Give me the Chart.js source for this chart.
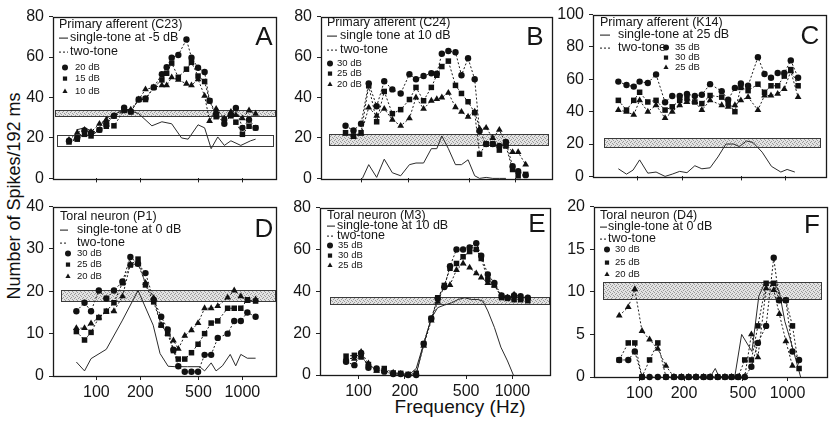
<!DOCTYPE html>
<html>
<head>
<meta charset="utf-8">
<title>Spike counts vs frequency</title>
<script src="https://cdn.jsdelivr.net/npm/chart.js@4.4.1/dist/chart.umd.min.js"></script>
<style>
  html, body { margin: 0; padding: 0; background: #fff; }
  body { position: relative; width: 831px; height: 430px; overflow: hidden;
         font-family: "Liberation Sans", Arial, sans-serif; color: #111; }
  canvas { position: absolute; }
  .axis-title { position: absolute; white-space: nowrap; transform: translate(-50%, -50%); }
  #ytitle { left: 14px; top: 196px; font-size: 18px; transform: translate(-50%, -50%) rotate(-90deg); }
  #xtitle { left: 460px; top: 407px; font-size: 19px; }
</style>
</head>
<body>
<div class="axis-title" id="ytitle">Number of Spikes/192 ms</div>
<div class="axis-title" id="xtitle">Frequency (Hz)</div>
<script>
// frequency tick labels (Hz), shared by all panels
const freqTicks = [100, 200, 500, 1000];

// ---- A: primary afferent (C23)
const freqA = [65, 74, 83, 92, 105, 117, 132, 155, 172, 195, 217, 247, 281, 303, 328, 364, 414, 448, 497, 551, 596, 661, 752, 834, 902, 1000, 1110, 1231];
const circlesA = [18.6, 20, 23.7, 22.6, 24, 27, 31, 35, 33, 39, 39.5, 45, 51.5, 55, 59.7, 61, 68.7, 59.7, 54.7, 52.6, 38.4, 32, 27, 31.3, 34.8, 25, 29, 25];
const squaresA = [18, 19.4, 21.8, 21, 24, 25.8, 26, 33.6, 33, 39, 39, 45, 48.7, 52, 57, 50, 54, 57.4, 50.6, 47.9, 38.4, 30.5, 29, 31, 27.8, 21.8, 25.8, 25];
const trianglesA = [19, 22.6, 24, 23, 27, 29, 30.5, 33.6, 34, 39, 44, 45, 46, 46, 50, 48.7, 46.8, 46, 49, 40.8, 28.4, 34.4, 29.7, 32.9, 31.3, 29.7, 33.6, 32];
const toneFreqA = [73, 83, 99, 116, 136, 159, 195, 240, 281, 328, 383, 425, 497, 551, 611, 678, 752, 834, 975, 1138, 1231];
const toneA = [24, 25, 22.6, 29.7, 32, 34.4, 32, 26, 28, 27, 20, 19.4, 26.5, 25, 14.7, 20.5, 16.3, 18.6, 16.3, 18.6, 19.4];
const bandA = [31, 34], bandFreqA = [52, 1680];
const boxA = [16, 21.5], boxFreqA = [54, 1630];
const levelsA = ['20 dB', '15 dB', '10 dB'];

// ---- B: primary afferent (C24)
const freqB = [78.5, 88.4, 99, 111, 125, 140, 158, 179, 204, 225, 252, 283, 307, 331, 365, 406, 444, 490, 541, 582, 642, 709, 782, 863, 953, 1036, 1159];
const circlesB = [26, 23.7, 27, 47, 35.7, 48, 44, 42, 51.5, 49, 50.6, 52, 51.8, 61.6, 63, 62.4, 51, 59.4, 49, 23.4, 17, 17, 16, 18, 6, 3.6, 1.6];
const squaresB = [22.6, 21, 22.6, 45.8, 28, 43, 32, 34, 39, 45, 38.4, 45, 51, 55.3, 58, 46, 42, 37.9, 32.5, 12, 17, 17, 14, 16, 4.4, 1.3, 2];
const trianglesB = [22, 20.5, 22, 35, 31, 34.4, 29, 26, 29.7, 40, 34.4, 38.4, 39.2, 40, 42.3, 35.2, 32.9, 30.5, 33, 24.6, 25, 20, 24, 17, 13, 13, 6.8];
const toneFreqB = [101, 111, 125, 140, 158, 179, 204, 225, 252, 283, 307, 331, 365, 406, 444, 490, 541, 582, 642, 709, 782, 863];
const toneB = [0, 6.8, 0.5, 9.5, 2.8, 1.3, 6.8, 7.6, 7.6, 14.7, 14.7, 21, 14.7, 6.8, 6.8, 9.2, 1.3, 0, 0.5, 0, 0, 0];
const bandB = [16.7, 22.1], bandFreqB = [61, 1611];
const levelsB = ['30 dB', '25 dB', '20 dB'];

// ---- C: primary afferent (K14)
const freqC = [74, 84, 94, 103, 117, 133, 153, 171, 192, 215, 243, 271, 308, 369, 408, 453, 497, 556, 648, 718, 794, 881, 976, 1080, 1210];
const circlesC = [58.6, 56.5, 55.5, 58.6, 57.7, 63, 45.8, 49.7, 49.7, 50.9, 49.7, 50.5, 57, 52.7, 47.4, 54.7, 57.4, 56, 73.7, 63.3, 61, 63.9, 63.9, 71.7, 61];
const squaresC = [47, 41, 47, 52, 46, 47, 41, 43, 47, 48, 46, 45, 50, 49, 45, 40, 55, 53, 57, 52, 56, 56, 62, 66, 56];
const trianglesC = [41, 40, 38, 47, 40, 44, 36, 40, 44, 46, 46, 41, 47, 44, 43, 44, 47, 49, 41, 50, 50, 51, 54, 65, 49];
const toneFreqC = [74, 84, 93, 103, 117, 133, 153, 171, 192, 215, 243, 271, 308, 348, 394, 445, 486, 542, 600, 692, 800, 925, 1020, 1150];
const toneC = [4.7, 1.4, 3.9, 10.2, 2, 2.7, 0, 1.4, 3.1, 2.3, 6.6, 4.7, 5.3, 12, 20, 20, 18.4, 21.9, 21, 15, 6.2, 2.7, 4.3, 2.7];
const bandC = [18, 23.8], bandFreqC = [59, 1700];
const levelsC = ['35 dB', '30 dB', '25 dB'];

// ---- D: toral neuron (P1)
const freqD = [73, 83, 92, 104, 117, 132, 151, 171, 193, 217, 247, 278, 308, 337, 364, 403, 448, 497, 551, 611, 678, 792, 879, 975, 1081, 1231];
const circlesD = [15.3, 17.3, 15.3, 20.2, 18.3, 20.2, 22.3, 28.1, 26.5, 24.3, 18, 14, 11, 6.2, 2.3, 1, 1, 1, 5, 5, 9, 10, 13, 13, 15, 14];
const squaresD = [10.5, 8.5, 10.3, 13.8, 15.3, 17.3, 22, 26.2, 27.6, 21.5, 17.5, 12, 10, 6, 4, 4, 5.5, 7.5, 10, 12.5, 13, 16, 16, 16, 18, 17.7];
const trianglesD = [11.3, 11.3, 12.4, 13.8, 15.2, 15.3, 18.8, 26.4, 26.4, 22, 18.4, 12, 10, 8.4, 6.4, 9.5, 10.8, 12.5, 16, 16, 16.5, 18.5, 20.2, 18.8, 17.7, 18.1];
const toneFreqD = [73, 83, 92, 117, 150, 193, 245, 273, 310, 345, 420, 510, 551, 611, 660, 730, 825, 900, 975, 1080, 1231];
const toneD = [3.3, 1.2, 4.1, 6.3, 13, 20.2, 12, 5.3, 2.3, 2.2, 2.2, 2.2, 1.2, 3.1, 1.2, 2.4, 5.1, 2.4, 5.1, 4.2, 4.2];
const bandD = [17.8, 20.3], bandFreqD = [57, 1679];
const levelsD = ['30 dB', '25 dB', '20 dB'];

// ---- E: toral neuron (M3)
const freqE = [83, 94, 104, 116, 131, 147, 168, 188, 210, 237, 265, 297, 327, 361, 393, 433, 478, 527, 582, 627, 692, 763, 850, 929, 1025, 1130, 1259];
const circlesE = [6.3, 4.7, 10.5, 3.5, 3.1, 1.6, 0.5, 0.5, 0, 0, 15, 27, 36.6, 42, 52, 60, 60, 61, 63, 57, 48, 44, 38, 37, 38, 37.7, 37];
const squaresE = [9, 9.4, 8.6, 5, 2.4, 3.1, 1, 0.8, 0.3, 0.8, 14.9, 27, 36.9, 42.8, 51, 53.3, 56.5, 59, 60, 55.7, 45.5, 43, 37, 36.6, 36, 36, 35.5];
const trianglesE = [8, 7.8, 11, 5.5, 2, 2, 1.1, 0.5, 0, 0.5, 14, 26, 35, 42.5, 43, 50.2, 53.3, 51.3, 48.6, 46.6, 43.9, 42.8, 37.7, 37, 38.4, 37, 36.6];
const toneFreqE = [212, 237, 265, 297, 327, 361, 403, 444, 490, 541, 597, 643, 692, 763, 841, 929, 1014];
const toneE = [0, 3.1, 14.9, 27.1, 32.2, 33.4, 34.5, 36.1, 36.9, 36.1, 36.1, 35.3, 30.6, 22.8, 13.3, 6.7, 0];
const bandE = [33.7, 37.2], bandFreqE = [65, 1718];
const levelsE = ['35 dB', '30 dB', '25 dB'];

// ---- F: toral neuron (D4)
const freqF = [73, 84, 93, 104, 117, 133, 151, 171, 192, 215, 241, 271, 300, 338, 378, 419, 464, 514, 570, 631, 717, 807, 880, 975, 1080, 1197];
const circlesF = [2, 2, 3, 0, 0, 0, 0, 0, 0, 0, 0, 0, 0, 0, 0, 0, 0, 0, 1.2, 4, 6, 14, 9, 9, 3, 2];
const squaresF = [2, 4, 4, 0, 2, 4, 0, 0, 0, 0, 0, 0, 0, 0, 0, 0, 0, 2, 2, 6, 11, 11, 9, 9, 6, 1];
const trianglesF = [7.2, 8.2, 10.3, 5.4, 4.4, 3.3, 1.3, 0, 0, 0, 0, 0, 0, 0, 0, 0, 0, 0, 5, 2.3, 10.4, 10.2, 7.4, 4.2, 1.3, null];
const toneFreqF = [230, 300, 325, 345, 440, 490, 575, 640, 700, 800, 880, 960, 1040, 1140, 1226];
const toneF = [0, 0, 1, 0, 0, 5, 3, 9.5, 11, 11.2, 10, 6.5, 4.5, 2, 0];
const bandF = [9.1, 11.1], bandFreqF = [57, 1694];
const levelsF = ['30 dB', '25 dB', '20 dB'];

const FONT = '"Liberation Sans", Arial, Helvetica, sans-serif';
const INK = '#151515';
const markerStyles = ['circle', 'rect', 'triangle'];
const markerRadius = [3.2, 3.9, 3.9];

// scattered-dot stipple used for the spontaneous-rate bands
const stippleCanvas = document.createElement('canvas');
stippleCanvas.width = 4; stippleCanvas.height = 4;
(function () {
  const g = stippleCanvas.getContext('2d');
  g.fillStyle = '#e3e3e3'; g.fillRect(0, 0, 4, 4);
  g.fillStyle = '#9a9a9a';
  g.fillRect(0, 0, 1, 1); g.fillRect(2, 1, 1, 1); g.fillRect(3, 3, 1, 1); g.fillRect(1, 2, 1, 1);
})();

function band(lohi, freqs, open) {
  return { lo: lohi[0], hi: lohi[1], from: freqs[0], to: freqs[1], open: !!open };
}

// layout: box = chart area [left, top, right, bottom] in page pixels
const panels = [
  { letter: 'A', box: [53, 14, 279, 183], xRange: [50.5, 1698], yMax: 80, yStep: 20, labels: false,
    title: 'Primary afferent (C23)', toneLabel: 'single-tone at -5 dB', levels: levelsA,
    freqs: freqA, series: [circlesA, squaresA, trianglesA], toneFreq: toneFreqA, tone: toneA,
    bands: [band(bandA, bandFreqA), band(boxA, boxFreqA, true)],
    lg: { x: 6, dashEnd: 15, text: 17, mark: 12, level: 22, rows: [8, 21, 35, 51, 62, 75], letter: [12, 21] } },
  { letter: 'B', box: [321, 14, 555, 183], xRange: [54.4, 1718], yMax: 80, yStep: 20, labels: false,
    title: 'Primary afferent (C24)', toneLabel: 'single tone at 10 dB', levels: levelsB,
    freqs: freqB, series: [circlesB, squaresB, trianglesB], toneFreq: toneFreqB, tone: toneB,
    bands: [band(bandB, bandFreqB)],
    lg: { x: 6, dashEnd: 16, text: 19, mark: 9, level: 16, rows: [6, 19, 33, 47, 57, 68], letter: [17, 21] } },
  { letter: 'C', box: [593, 10, 829, 181], xRange: [49.9, 1867], yMax: 100, yStep: 20, labels: false,
    title: 'Primary afferent (K14)', toneLabel: 'single-tone at 25 dB', levels: levelsC,
    freqs: freqC, series: [circlesC, squaresC, trianglesC], toneFreq: toneFreqC, tone: toneC,
    bands: [band(bandC, bandFreqC)],
    lg: { x: 7, dashEnd: 17, text: 25, mark: 73, level: 82, rows: [8, 20, 33, 33, 43, 53], letter: [16, 22] } },
  { letter: 'D', box: [53, 204, 279, 376], xRange: [50.5, 1698], yMax: 40, yStep: 10, labels: true,
    title: 'Toral neuron (P1)', toneLabel: 'single-tone at 0 dB', levels: levelsD,
    freqs: freqD, series: [circlesD, squaresD, trianglesD], toneFreq: toneFreqD, tone: toneD,
    bands: [band(bandD, bandFreqD)],
    lg: { x: 7, dashEnd: 15, text: 24, mark: 15, level: 24, rows: [10, 23, 36, 47, 58, 70], letter: [12, 23] } },
  { letter: 'E', box: [320, 205, 553, 375], xRange: [56.2, 1754], yMax: 80, yStep: 20, labels: true,
    title: 'Toral neuron (M3)', toneLabel: 'single-tone at 10 dB', levels: levelsE,
    freqs: freqE, series: [circlesE, squaresE, trianglesE], toneFreq: toneFreqE, tone: toneE,
    bands: [band(bandE, bandFreqE)],
    lg: { x: 7, dashEnd: 15, text: 17, mark: 10, level: 18, rows: [8, 18, 28, 38, 48, 58], letter: [13, 17] } },
  { letter: 'F', box: [594, 204, 830, 377], xRange: [49.3, 1848], yMax: 20, yStep: 5, labels: true,
    title: 'Toral neuron (D4)', toneLabel: 'single-tone at 0 dB', levels: levelsF,
    freqs: freqF, series: [circlesF, squaresF, trianglesF], toneFreq: toneFreqF, tone: toneF,
    bands: [band(bandF, bandFreqF)],
    lg: { x: 6, dashEnd: 13, text: 14, mark: 13, level: 21, rows: [9, 20, 32, 43, 56, 68], letter: [15, 19] } }
];

function points(freqs, vals) {
  return freqs.map((f, i) => ({ x: f, y: vals[i] }));
}

function decor(p) {
  return {
    id: 'decor' + p.letter,
    beforeDatasetsDraw(chart) {
      const { ctx, chartArea: a, scales: { x, y } } = chart;
      ctx.save();
      p.bands.forEach(b => {
        const x0 = Math.round(x.getPixelForValue(b.from)) + 0.5;
        const x1 = Math.round(x.getPixelForValue(b.to)) + 0.5;
        const y0 = Math.round(y.getPixelForValue(b.hi)) + 0.5;
        const y1 = Math.round(y.getPixelForValue(b.lo)) + 0.5;
        if (!b.open) {
          ctx.fillStyle = ctx.createPattern(stippleCanvas, 'repeat');
          ctx.fillRect(x0, y0, x1 - x0, y1 - y0);
        }
        ctx.strokeStyle = '#3a3a3a';
        ctx.lineWidth = 1;
        ctx.strokeRect(x0, y0, x1 - x0, y1 - y0);
      });
      // closed frame round the plot
      ctx.strokeStyle = '#1a1a1a';
      ctx.lineWidth = 1.3;
      ctx.strokeRect(Math.round(a.left) + 0.5, Math.round(a.top) + 0.5, Math.round(a.width), Math.round(a.height));
      ctx.restore();
    },
    afterDatasetsDraw(chart) {
      const { ctx, chartArea: a } = chart;
      const lg = p.lg, ax = a.left, ay = a.top;
      ctx.save();
      ctx.fillStyle = INK;
      ctx.strokeStyle = INK;
      ctx.textBaseline = 'middle';
      ctx.textAlign = 'left';
      ctx.font = '12.5px ' + FONT;
      ctx.fillText(p.title, ax + lg.x, ay + lg.rows[0]);

      ctx.lineWidth = 1;
      ctx.beginPath();
      ctx.moveTo(ax + lg.x, ay + lg.rows[1] + 0.5);
      ctx.lineTo(ax + lg.dashEnd, ay + lg.rows[1] + 0.5);
      ctx.stroke();
      ctx.fillText(p.toneLabel, ax + lg.text, ay + lg.rows[1]);

      ctx.setLineDash([2, 2]);
      ctx.beginPath();
      ctx.moveTo(ax + lg.x, ay + lg.rows[2] + 0.5);
      ctx.lineTo(ax + lg.dashEnd, ay + lg.rows[2] + 0.5);
      ctx.stroke();
      ctx.setLineDash([]);
      ctx.fillText('two-tone', ax + lg.text, ay + lg.rows[2]);

      ctx.font = '9.5px ' + FONT;
      p.levels.forEach((lv, k) => {
        const yy = ay + lg.rows[3 + k];
        Chart.helpers.drawPoint(ctx, { pointStyle: markerStyles[k], radius: 3, rotation: 0, borderWidth: 0 }, ax + lg.mark, yy);
        ctx.fillText(lv, ax + lg.level, yy);
      });

      ctx.font = '26px ' + FONT;
      ctx.textAlign = 'center';
      ctx.fillText(p.letter, a.right - lg.letter[0], ay + lg.letter[1]);
      ctx.restore();
    }
  };
}

function buildPanel(p) {
  const [L, T, R, B] = p.box;
  const padTop = Math.min(12, T);
  const axisW = 40, padRight = 1;
  const xAxisH = p.labels ? 26 : 10;
  const w = R - L + axisW + padRight, h = B - T + padTop + xAxisH;
  const canvas = document.createElement('canvas');
  canvas.width = w; canvas.height = h;
  canvas.style.left = (L - axisW) + 'px';
  canvas.style.top = (T - padTop) + 'px';
  canvas.style.width = w + 'px';
  canvas.style.height = h + 'px';
  document.body.appendChild(canvas);

  const datasets = p.series.map((vals, k) => ({
    data: points(p.freqs, vals),
    borderColor: '#1c1c1c',
    borderWidth: 1,
    borderDash: [2, 2],
    pointStyle: markerStyles[k],
    pointRadius: markerRadius[k],
    pointBackgroundColor: '#111',
    pointBorderColor: '#111',
    pointBorderWidth: 0,
    tension: 0,
    clip: false
  }));
  datasets.push({
    data: points(p.toneFreq, p.tone),
    borderColor: '#2b2b2b',
    borderWidth: 1,
    pointRadius: 0,
    tension: 0,
    clip: false
  });

  const tickFont = { family: FONT, size: 16 };
  new Chart(canvas, {
    type: 'line',
    data: { datasets },
    options: {
      responsive: false,
      animation: false,
      devicePixelRatio: 1,
      layout: { padding: { top: padTop, right: padRight, left: 0, bottom: 0 } },
      plugins: { legend: { display: false }, tooltip: { enabled: false } },
      scales: {
        x: {
          type: 'logarithmic',
          min: p.xRange[0],
          max: p.xRange[1],
          afterBuildTicks: s => { s.ticks = freqTicks.map(v => ({ value: v })); },
          afterFit: s => { s.height = xAxisH; },
          border: { display: false },
          grid: { drawOnChartArea: false, drawTicks: true, tickLength: 4, color: '#222' },
          ticks: { display: p.labels, autoSkip: false, maxRotation: 0, padding: 3, color: INK,
                   font: tickFont, callback: v => String(v) }
        },
        y: {
          min: 0,
          max: p.yMax,
          afterFit: s => { s.width = axisW; },
          border: { display: false },
          grid: { drawOnChartArea: false, drawTicks: true, tickLength: 4, color: '#222' },
          ticks: { stepSize: p.yStep / 2, padding: 5, color: INK, font: tickFont,
                   callback: v => (v % p.yStep === 0 ? String(v) : '') }
        }
      }
    },
    plugins: [decor(p)]
  });
}

panels.forEach(buildPanel);
</script>
</body>
</html>
